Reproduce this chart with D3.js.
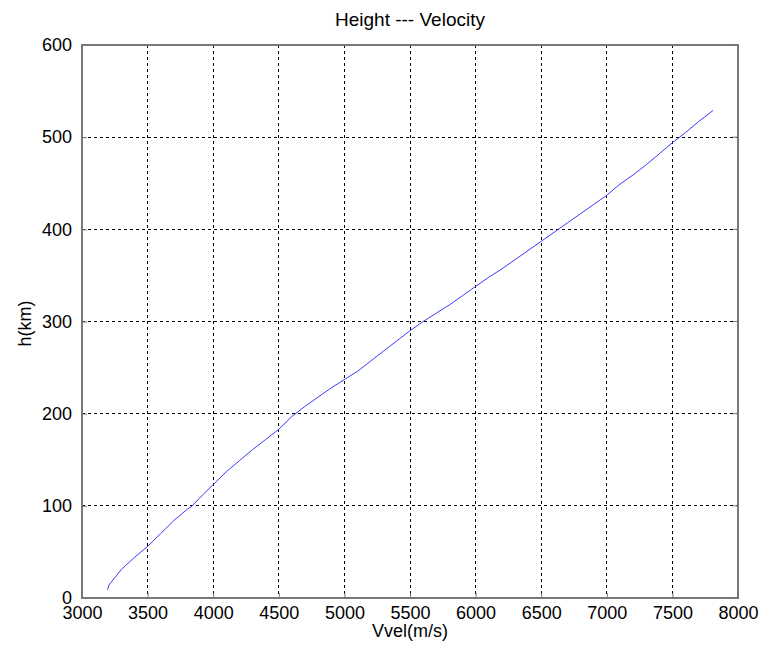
<!DOCTYPE html>
<html>
<head>
<meta charset="utf-8">
<script src="https://cdn.jsdelivr.net/npm/d3@7"></script>
<style>
  body { margin: 0; background: #fff; }
  text { font-family: Arial, "Liberation Sans", sans-serif; fill: #000; }
</style>
</head>
<body>
<svg id="chart"></svg>
<script>
// data
var velocity = [3195, 3205, 3250, 3300, 3400, 3500, 3600, 3700, 3800, 3840, 3900, 4000,
  4100, 4200, 4300, 4400, 4500, 4600, 4700, 4800, 4900, 5000, 5100, 5200, 5300, 5400,
  5500, 5600, 5700, 5800, 5900, 6000, 6100, 6200, 6300, 6400, 6500, 6600, 6700, 6800,
  6900, 7000, 7100, 7200, 7300, 7400, 7500, 7600, 7700, 7810];
var height = [9, 14, 22, 31, 44, 56, 70, 84, 96, 100, 109, 123,
  137, 149, 161, 172, 183, 197, 208, 218, 228, 237, 246, 257, 268, 279,
  290, 300, 309, 318, 328, 338, 348, 357, 367, 377, 387, 397, 407, 417,
  427, 437, 449, 459, 470, 482, 494, 505, 517, 529];
var xTicks = [3000, 3500, 4000, 4500, 5000, 5500, 6000, 6500, 7000, 7500, 8000];
var yTicks = [0, 100, 200, 300, 400, 500, 600];

var margin = {top: 45, bottom: 58, left: 82, right: 23},
  width = 761 - margin.left - margin.right,
  h = 656 - margin.top - margin.bottom;

var svg = d3.select("#chart")
    .attr("width", 761)
    .attr("height", 656)
  .append("g")
    .attr("transform", "translate(" + margin.left + "," + margin.top + ")");

var x = d3.scaleLinear().domain([3000, 8000]).range([0, width]);
var y = d3.scaleLinear().domain([0, 600]).range([h, 0]);

// grid lines
svg.append("g").selectAll("line").data(xTicks.slice(1, -1)).enter().append("line")
  .attr("x1", function(d) { return x(d); }).attr("x2", function(d) { return x(d); })
  .attr("y1", 0).attr("y2", h)
  .attr("stroke", "#000").attr("stroke-width", 1).attr("stroke-dasharray", "3,3")
  .attr("shape-rendering", "crispEdges");
svg.append("g").selectAll("line").data(yTicks.slice(1)).enter().append("line")
  .attr("y1", function(d) { return y(d); }).attr("y2", function(d) { return y(d); })
  .attr("x1", 0).attr("x2", width)
  .attr("stroke", "#000").attr("stroke-width", 1).attr("stroke-dasharray", "3,3")
  .attr("shape-rendering", "crispEdges");

// frame
svg.append("rect")
  .attr("x", 0).attr("y", 0).attr("width", width).attr("height", h)
  .attr("fill", "none").attr("stroke", "#777").attr("stroke-width", 1.5)
  .attr("shape-rendering", "crispEdges");

// axes
var xAxis = d3.axisBottom(x).tickValues(xTicks).tickSize(-5).tickPadding(8).tickFormat(d3.format("d"));
var yAxis = d3.axisLeft(y).tickValues(yTicks).tickSize(-5).tickPadding(10).tickFormat(d3.format("d"));
var ySel = svg.append("g").call(yAxis);
var xSel = svg.append("g").attr("transform", "translate(0," + h + ")").call(xAxis);
[xSel, ySel].forEach(function(s) {
  s.select(".domain").remove();
  s.selectAll("line").attr("stroke", "#777");
  s.selectAll("text").style("font-size", "18px").style("font-family", "Arial, 'Liberation Sans', sans-serif");
});
// right-side tick marks
svg.append("g").selectAll("line").data(yTicks).enter().append("line")
  .attr("x1", width).attr("x2", width - 5)
  .attr("y1", function(d) { return y(d); }).attr("y2", function(d) { return y(d); })
  .attr("stroke", "#777");

// curve
var line = d3.line()
  .x(function(d, i) { return x(velocity[i]); })
  .y(function(d) { return y(d); });
svg.append("path")
  .datum(height)
  .attr("d", line)
  .attr("fill", "none")
  .attr("stroke", "#3a3aff")
  .attr("stroke-width", 1);

// title and labels
svg.append("text")
  .attr("x", width / 2).attr("y", -19)
  .attr("text-anchor", "middle")
  .style("font-size", "19px")
  .text("Height --- Velocity");
svg.append("text")
  .attr("x", width / 2).attr("y", h + 39)
  .attr("text-anchor", "middle")
  .style("font-size", "18px")
  .text("Vvel(m/s)");
svg.append("text")
  .attr("transform", "rotate(-90)")
  .attr("x", -h / 2 - 2).attr("y", -51)
  .attr("text-anchor", "middle")
  .style("font-size", "18px")
  .text("h(km)");
</script>
</body>
</html>
